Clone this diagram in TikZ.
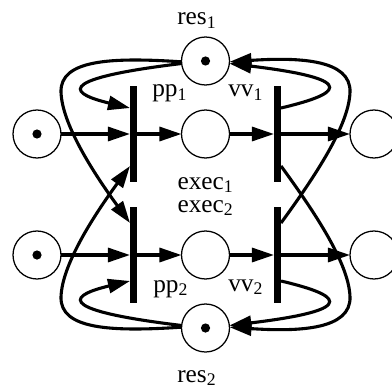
\documentclass[tikz,border=0pt]{standalone}
\usepackage{fontspec}
\setmainfont{Liberation Serif}
\usetikzlibrary{arrows.meta, calc}

\begin{document}
\begin{tikzpicture}[x=0.025cm, y=0.025cm,
  font=\fontsize{18}{20}\selectfont,
  placenode/.style={circle, draw, line width=0.9pt, minimum size=1.2cm, inner sep=0pt, outer sep=0pt},
  transbar/.style={rectangle, fill=black, minimum width=0.175cm, minimum height=2.4cm, inner sep=0pt, outer sep=0pt},
  tokendot/.style={circle, fill=black, minimum size=0.23cm, inner sep=0pt},
  flowarc/.style={line width=2.2pt, -{Triangle[length=0.55cm, width=0.35cm]}},
  lbl/.style={anchor=base west, inner sep=0pt}]
  \useasboundingbox (0,0) rectangle (392,389);
  % places
  \foreach \name/\x/\y in {in1/37/255, in2/37/134, exec1/205.5/255, exec2/205.5/134,
    out1/374/255, out2/374/134, res1/205.5/328, res2/205.5/61}
    \node[placenode] (\name) at (\x,\y) {};
  % tokens
  \foreach \name in {in1, in2, res1, res2}
    \node[tokendot] (\name-tok) at (\name) {};
  % transitions
  \foreach \name/\x/\y in {pp1/133.5/255, pp2/133.5/134, vv1/277.5/255, vv2/277.5/134}
    \node[transbar] (\name) at (\x,\y) {};
  % labels
  \node[lbl] (res1-lbl) at (177,364) {res\textsubscript{1}};
  \node[lbl] (res2-lbl) at (177,7) {res\textsubscript{2}};
  \node[lbl] (pp1-lbl) at (152,292) {pp\textsubscript{1}};
  \node[lbl] (vv1-lbl) at (228,292) {vv\textsubscript{1}};
  \node[lbl] (pp2-lbl) at (153,97) {pp\textsubscript{2}};
  \node[lbl] (vv2-lbl) at (228,98) {vv\textsubscript{2}};
  \node[anchor=base, inner sep=0pt] (exec1-lbl) at (205.5,200) {exec\textsubscript{1}};
  \node[anchor=base, inner sep=0pt] (exec2-lbl) at (205.5,177) {exec\textsubscript{2}};
  % straight arcs
  \foreach \i in {1,2} {
    \draw[flowarc] (in\i) -- (pp\i);
    \draw[flowarc] (pp\i) -- (exec\i);
    \draw[flowarc] (exec\i) -- (vv\i);
    \draw[flowarc] (vv\i) -- (out\i);
  }
  % resource arcs, left
  \draw[flowarc] (res1.186) .. controls (45,309) and (75,294) .. ($(pp1.west)+(0,26)$);
  \draw[flowarc] (res2.174) .. controls (45,80) and (75,95) .. ($(pp2.west)+(0,-26)$);
  \draw[flowarc] (res1.182) .. controls (110,332) and (60,329) .. (61,297)
    .. controls (62,264) and (95,214) .. ($(pp2.west)+(0,32)$);
  \draw[flowarc] (res2.178) .. controls (110,57) and (60,60) .. (61,92)
    .. controls (62,125) and (95,175) .. ($(pp1.west)+(0,-32)$);
  % resource arcs, right
  \draw[flowarc] ($(vv1.east)+(0,26)$) .. controls (336,294) and (366,309) .. (res1.354);
  \draw[flowarc] ($(vv2.east)+(0,-26)$) .. controls (336,95) and (366,80) .. (res2.6);
  \draw[flowarc] ($(vv2.east)+(0,32)$) .. controls (316,214) and (349,264) .. (350,297)
    .. controls (351,329) and (301,332) .. (res1.358);
  \draw[flowarc] ($(vv1.east)+(0,-32)$) .. controls (316,175) and (349,125) .. (350,92)
    .. controls (351,60) and (301,57) .. (res2.2);
\end{tikzpicture}
\end{document}
